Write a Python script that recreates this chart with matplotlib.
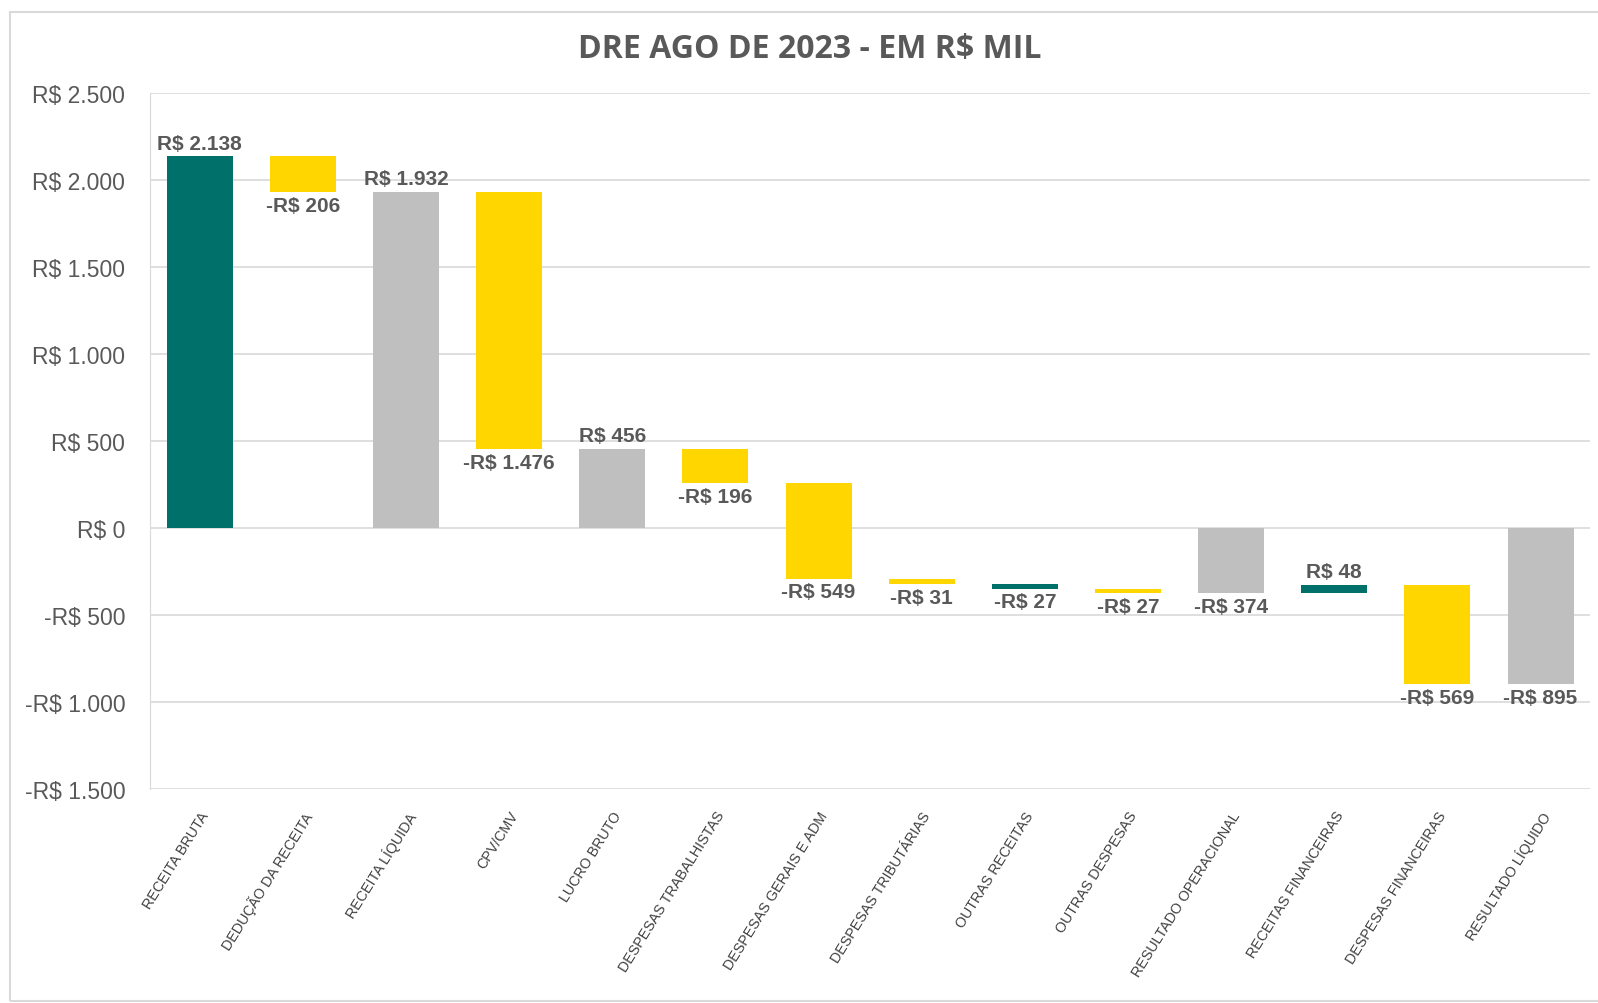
import matplotlib.pyplot as plt
from matplotlib.patches import Rectangle

categories = ["RECEITA BRUTA", "DEDUÇÃO DA RECEITA", "RECEITA LÍQUIDA", "CPV/CMV",
              "LUCRO BRUTO", "DESPESAS TRABALHISTAS", "DESPESAS GERAIS E ADM",
              "DESPESAS TRIBUTÁRIAS", "OUTRAS RECEITAS", "OUTRAS DESPESAS",
              "RESULTADO OPERACIONAL", "RECEITAS FINANCEIRAS", "DESPESAS FINANCEIRAS",
              "RESULTADO LÍQUIDO"]
values = [2138, -206, 1932, -1476, 456, -196, -549, -31, -27, -27, -374, 48, -569, -895]
# kind: 'rec' = receita, 'desp' = despesa, 'tot' = subtotal
kinds = ["rec", "desp", "tot", "desp", "tot", "desp", "desp", "desp", "rec", "desp",
         "tot", "rec", "desp", "tot"]
yticks = [-1500, -1000, -500, 0, 500, 1000, 1500, 2000, 2500]

colors = {"rec": "#00706B", "desp": "#FFD600", "tot": "#BFBFBF"}


def fmt(v):
    s = "{:,}".format(abs(int(v))).replace(",", ".")
    return ("-R$ " if v < 0 else "R$ ") + s


fig = plt.figure(figsize=(15.98, 10.04), dpi=100)
# moldura do gráfico (lado direito fica fora da imagem)
fig.patches.append(Rectangle((0.0065, 0.002), 1.05, 0.985, transform=fig.transFigure,
                             fill=False, edgecolor="#D9D9D9", linewidth=1.5))
ax = fig.add_axes([0.094, 0.213, 0.901, 0.693])

running = 0
bottoms = []
heights = []
for v, k in zip(values, kinds):
    if k == "tot":
        bottoms.append(0)
        heights.append(v)
        running = v
    else:
        bottoms.append(running)
        heights.append(v)
        running += v

x = range(len(categories))
ax.bar(x, heights, bottom=bottoms, width=0.64, color=[colors[k] for k in kinds], zorder=3)

for i, (b, h, v) in enumerate(zip(bottoms, heights, values)):
    top = max(b, b + h)
    low = min(b, b + h)
    if v >= 0:
        ax.text(i, top + 22, fmt(v), ha="center", va="bottom", fontsize=15,
                fontweight="bold", color="#595959", family="Liberation Sans")
    else:
        ax.text(i, low - 22, fmt(v), ha="center", va="top", fontsize=15,
                fontweight="bold", color="#595959", family="Liberation Sans")

ax.set_xlim(-0.48, 13.48)
ax.set_ylim(-1500, 2500)
ax.set_yticks(yticks)
ax.set_yticklabels([fmt(t) if t != 0 else "R$ 0" for t in yticks], fontsize=16.5,
                   color="#595959", family="Liberation Sans")
ax.set_xticks(list(x))
ax.set_xticklabels(categories, rotation=58, ha="right", rotation_mode="anchor",
                   fontsize=10.3, color="#404040", family="Liberation Sans")
ax.tick_params(length=0)
ax.tick_params(axis="y", pad=18)
ax.tick_params(axis="x", pad=14)
ax.grid(axis="y", color="#D9D9D9", linewidth=1.2, zorder=0)
for s in ["top", "right", "bottom"]:
    ax.spines[s].set_visible(False)
ax.spines["left"].set_color("#D9D9D9")

fig.text(0.507, 0.951, "DRE AGO DE 2023 - EM R$ MIL", ha="center", va="center",
         fontsize=23, fontweight="bold", color="#595959", family="Open Sans")

fig.savefig("out.png", dpi=100)
